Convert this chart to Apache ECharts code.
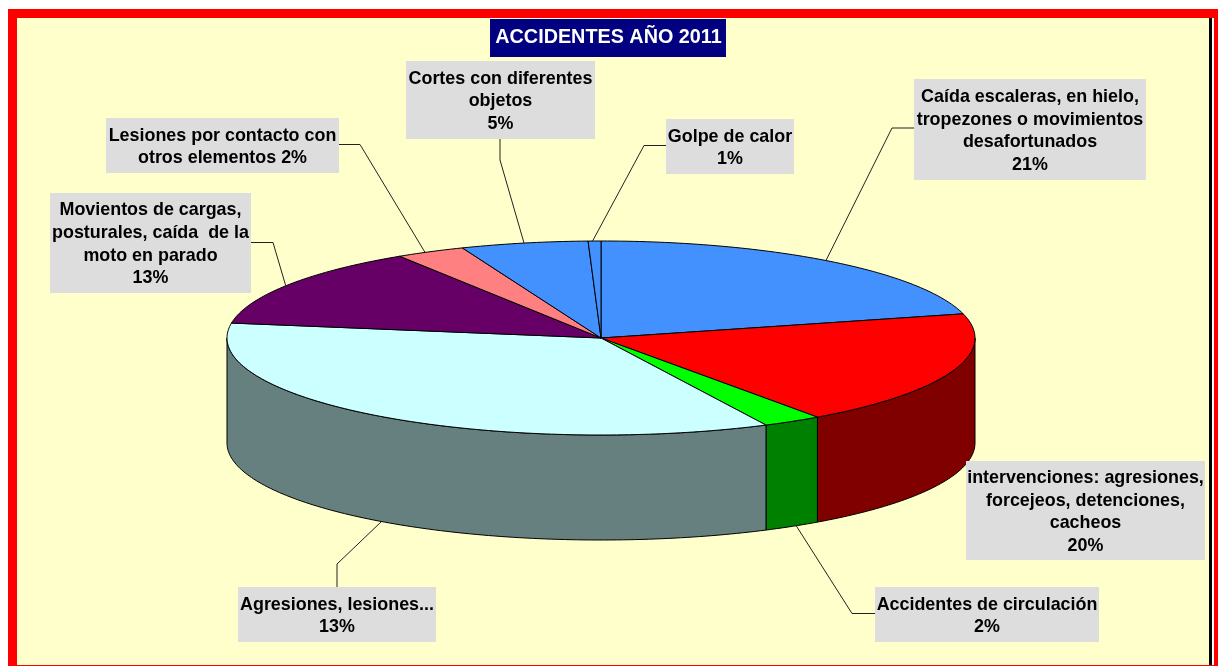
<!DOCTYPE html>
<html><head><meta charset="utf-8">
<style>html,body{margin:0;padding:0;background:#fff}#c{width:1218px;height:666px}</style>
<script src="https://cdn.jsdelivr.net/npm/echarts@6/dist/echarts.min.js"></script>
</head><body><div id="c"></div>
<script>
// ---- data ----
const chartTitle = 'ACCIDENTES AÑO 2011';
const categories = [
  'Caída escaleras, en hielo,\ntropezones o movimientos\ndesafortunados',
  'intervenciones: agresiones,\nforcejeos, detenciones,\ncacheos',
  'Accidentes de circulación',
  'Agresiones, lesiones...',
  'Movientos de cargas,\nposturales, caída  de la\nmoto en parado',
  'Lesiones por contacto con\notros elementos',
  'Cortes con diferentes\nobjetos',
  'Golpe de calor'
];
const sliceValues = [21, 19.2, 2.55, 34.75, 13.5, 3, 5.5, 0.55];   // size of the drawn slices
const printedPercent = [21, 20, 2, 13, 13, 2, 5, 1];               // text printed in the labels
// ---- styles ----
const topColors  = ['#4390FF','#FF0000','#00FF00','#CCFFFF','#660066','#FF8080','#4390FF','#4390FF'];
const sideColors = ['#214880','#800000','#008000','#668080','#330033','#804040','#214880','#214880'];
// ---- layout ----
const pie = {cx: 601, cy: 338, rx: 374, ry: 97, depth: 105, startDeg: -90};
const boxes = [ // x, y, w, h of each label plate
  [914,79,232,101],[966,461,239,99],[875,587,224,55],[238,587,198,55],
  [50,193,201,100],[106,118,233,55],[406,61,189,78],[666,119,128,55]
];
const elbows = [ // leader line: plate side point and elbow; null = none
  [[914,128],[892,128]], null, [[875,613.5],[852,613.5]], [[337,587],[337,564]],
  [[251,242.5],[273,242.5]], [[339,144.5],[360,144.5]], [[500,139],[500,160]], [[666,145.5],[644,145.5]]
];
const anchorNudgeDeg = [-0.8, 0, -0.7, -0.4, -0.6, -0.9, 0, -0.3];
const FONT = '"Liberation Sans", Arial, sans-serif';

const total = sliceValues.reduce((a,b)=>a+b,0);
function pt(deg, dy){
  const t = deg*Math.PI/180;
  return [pie.cx + pie.rx*Math.cos(t), pie.cy + pie.ry*Math.sin(t) + (dy||0)];
}
function arc(a, b, dy){
  const out = [], n = Math.max(2, Math.ceil(Math.abs(b-a)));
  for (let i=0;i<=n;i++) out.push(pt(a+(b-a)*i/n, dy));
  return out;
}
function labelText(i){
  const name = categories[i], pct = printedPercent[i] + '%';
  return i === 5 ? name + ' ' + pct : name + '\n' + pct;
}
function renderItem(params, api){
  const i = params.dataIndex;
  let before = 0;
  for (let k=0;k<i;k++) before += sliceValues[k];
  const a = pie.startDeg + before/total*360;
  const b = a + api.value(0)/total*360;
  const mid = (a+b)/2 + anchorNudgeDeg[i];
  const children = [];
  const lineStyle = {stroke:'#000', lineWidth:1, lineJoin:'round'};
  // front wall: the part of the slice facing the viewer (0..180 deg)
  const wa = Math.max(a, 0), wb = Math.min(b, 180);
  if (wb > wa){
    children.push({type:'polygon', z2:1,
      shape:{points: arc(wa,wb,0).concat(arc(wb,wa,pie.depth))},
      style:Object.assign({fill:sideColors[i]}, lineStyle)});
  }
  // top face
  children.push({type:'polygon', z2:2,
    shape:{points: [[pie.cx,pie.cy]].concat(arc(a,b,0))},
    style:Object.assign({fill:topColors[i]}, lineStyle)});
  // leader line from the slice's middle to its plate
  const nm = ((mid%360)+360)%360;
  const anchor = (nm > 0 && nm < 180) ? pt(mid, pie.depth) : pt(mid, 0);
  if (elbows[i]){
    children.push({type:'polyline', z2:3,
      shape:{points:[elbows[i][0], elbows[i][1], anchor]},
      style:{stroke:'#222', lineWidth:1, fill:null}});
  }
  // plate + text
  const [x,y,w,h] = boxes[i];
  children.push({type:'rect', z2:4, shape:{x,y,width:w,height:h}, style:{fill:'#DDDDDD'}});
  children.push({type:'text', z2:5, x:x+w/2, y:y+h/2+1.5,
    style:{text:labelText(i), fill:'#000', font:'bold 17.9px '+FONT, lineHeight:22.7,
      align:'center', verticalAlign:'middle'}});
  return {type:'group', children};
}
const chart = echarts.init(document.getElementById('c'), null, {renderer:'canvas'});
chart.setOption({
  animation:false,
  backgroundColor:'#fff',
  graphic:[
    {type:'rect', z:-10, shape:{x:8,y:9,width:1210,height:657}, style:{fill:'#FF0000'}},
    {type:'rect', z:-9, shape:{x:1212,y:18,width:2,height:647}, style:{fill:'#FFFFFF'}},
    {type:'rect', z:-9, shape:{x:1209,y:18,width:3,height:647}, style:{fill:'#000000'}},
    {type:'rect', z:-9, shape:{x:17,y:18,width:1192,height:647}, style:{fill:'#FFFFCC'}},
    {type:'rect', z:-8, shape:{x:490,y:19,width:236,height:38}, style:{fill:'#000080'}},
    {type:'text', z:-7, x:608.5, y:38, style:{text:chartTitle, fill:'#fff',
      font:'bold 19.8px '+FONT, align:'center', verticalAlign:'middle'}}
  ],
  series:[{
    type:'custom', coordinateSystem:'none', silent:true, clip:false,
    renderItem, data: sliceValues.map((v,i)=>({name:categories[i], value:[v]}))
  }]
});
</script></body></html>
